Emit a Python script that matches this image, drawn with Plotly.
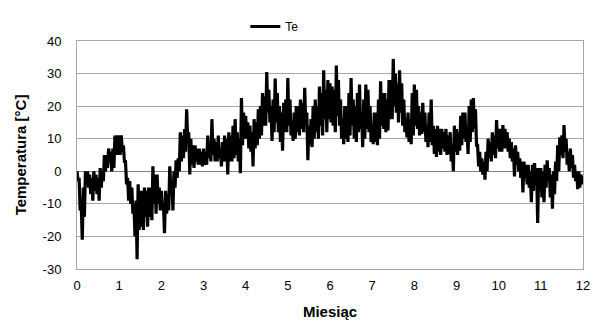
import numpy as np
import plotly.graph_objects as go

# Outdoor air temperature Te over one year: upper and lower bound of the
# hourly trace in each 0.05-month window
month_step = 0.05
te_upper = [
    # month 0
    0, -2, -10, -5, 0, 0, -1, -2, 0, -1, -2, 1, 0, 5, 5, 7, 6, 7, 11, 11,
    # month 1
    11, 11, 8, 3, -2, -3, -5, -10, -9, -4, -6, -6, -5, -6, -5, -5, 1.5, -1, -1, -5,
    # month 2
    -6, -10, -6, -7, 1.5, -3, 0, 3.4, 4, 12, 11, 13, 19, 12, 10, 8, 8, 7, 7, 6,
    # month 3
    7, 6, 11, 9, 16, 10, 9, 11, 7, 9, 11, 10, 12, 11, 14, 16, 12, 10, 22.5, 18,
    # month 4
    17, 15, 14, 12, 16, 15, 19, 20, 24, 23, 30.5, 25, 20, 22, 28.5, 24, 20, 18, 21, 22,
    # month 5
    28.6, 22, 15, 18, 20, 20, 22, 21, 25.6, 18, 14, 16, 20, 22, 20, 26, 24, 31, 25, 28,
    # month 6
    27, 26, 25, 32.5, 28, 22, 16, 20, 20, 24, 28.6, 22, 20, 24, 26.6, 18, 22, 26.6, 25, 20,
    # month 7
    14, 18, 18, 22, 27.6, 24, 24, 22, 28, 28, 34.5, 30, 27, 31, 27, 22, 16, 18, 16, 24,
    # month 8
    26.6, 25, 20, 18, 21, 18, 14, 18, 22, 14, 13, 14, 13, 13, 12, 13, 11, 12, 8, 14,
    # month 9
    13, 12, 17, 18, 18, 12, 20, 22, 22.5, 19, 8, 6, 4, 3, 6, 10, 9, 12, 11, 15.7,
    # month 10
    13, 13, 14.2, 13, 12, 10, 9, 7, 8, 6, 4, 3, 3, 2, 2, 0, 2, 2.5, 1, 1,
    # month 11
    1, 0, 2, 3.4, 1, -1, 0, 3, 8, 10.4, 11, 14.2, 10, 6, 7, 5, 2, 0, 0, -1,
    # end of year
    -1.6,
]
te_lower = [
    # month 0
    -3, -12, -21, -14, -4, -5, -7, -9, -6, -7, -9, -5, -3, 0, 1, 3, 0, 1, 5, 5,
    # month 1
    5, 6, 3, -4, -9, -10, -13, -20, -27, -18, -17, -18, -14, -17, -14, -15, -10, -13, -10, -12,
    # month 2
    -12, -19, -13, -12, -5, -12, -5, -2, 0, 3, 4, 6, 10, -1, 2, 1, 3, 2, 2, 1.5,
    # month 3
    2, 2, 4, 3, 5, 3, 3, 4, 1.5, 3, 3, -1, 3, 3, 4, 5, 3, -0.6, 8, 10,
    # month 4
    10, 7, 6, 1.5, 7, 8, 10, 11, 14, 14, 18, 15, 9.3, 12, 15, 12, 9, 6.3, 12, 12,
    # month 5
    14, 11, 9.3, 10, 12, 11, 13, 12, 14, 3.4, 8, 7.4, 10, 12, 10, 14, 11, 16, 12, 16,
    # month 6
    15, 14, 12, 17, 14, 10, 8.3, 10, 9, 11, 14, 10, 9, 12, 13, 7.4, 10, 13, 12, 9,
    # month 7
    8.3, 9, 8, 10, 14, 13, 12, 12.5, 16, 16, 20, 18, 15, 18, 14, 12, 10.4, 9, 8.3, 11,
    # month 8
    14, 13, 11, 11.5, 12, 9, 7.4, 9, 8, 5.3, 4.4, 6, 5, 7, 6, 5, 5.3, 3, 0, 6,
    # month 9
    5, 6.3, 8, 10, 9, 5.3, 9, 12, 13, 8, 1.5, 0, -1, -2.6, 0, 4, 3, 5, 4, 7,
    # month 10
    6, 6, 7, 7, 6, 4, 3, -1.6, 2, 0, -2, -6.5, -2, -4, -5, -9.5, -6, -4, -15.9, -6,
    # month 11
    -8, -9.5, -5, -3, -8, -11.5, -7, -3, 0, 5, 4, 6, 2, 0, 1, -2, -3, -5.5, -5, -4,
]

# Interleave the bounds into one trace: upper at the start of each window,
# lower half a window later
months, te = [], []
for i, hi in enumerate(te_upper):
    months.append(i * month_step)
    te.append(hi)
    if i < len(te_lower):
        months.append(i * month_step + month_step / 2)
        te.append(te_lower[i])

x_ticks = list(range(0, 13))
y_ticks = list(range(-30, 41, 10))

font_family = "Liberation Sans, Arial, sans-serif"
grid_color = "#a6a6a6"

fig = go.Figure()
fig.add_trace(go.Scatter(
    x=months, y=te, mode="lines", name="Te",
    line=dict(color="black", width=3.2),
))

fig.update_layout(
    width=602, height=335,
    margin=dict(l=77, r=13, t=33, b=66),
    paper_bgcolor="white", plot_bgcolor="white",
    font=dict(family=font_family, size=13, color="black"),
    showlegend=True,
    legend=dict(
        orientation="h", x=0.39, xanchor="center", y=1.0, yanchor="bottom",
        font=dict(size=12), itemwidth=30, bgcolor="rgba(0,0,0,0)",
    ),
    xaxis=dict(
        range=[0, 12], tickvals=x_ticks, ticktext=[str(v) for v in x_ticks],
        showgrid=False, zeroline=False,
        showline=True, linecolor=grid_color, linewidth=1, mirror=True,
        ticks="", ticklen=0, ticklabelstandoff=4,
        title=dict(text="<b>Miesiąc</b>", font=dict(size=15), standoff=14),
    ),
    yaxis=dict(
        range=[-30, 40], tickvals=y_ticks, ticktext=[str(v) for v in y_ticks],
        showgrid=True, gridcolor=grid_color, gridwidth=1,
        zeroline=True, zerolinecolor="#808080", zerolinewidth=1,
        showline=True, linecolor=grid_color, linewidth=1, mirror=True,
        ticks="", ticklen=0, ticklabelstandoff=12,
        title=dict(text="<b>Temperatura [°C]</b>", font=dict(size=15), standoff=12),
    ),
)

fig.write_html("out.html")
